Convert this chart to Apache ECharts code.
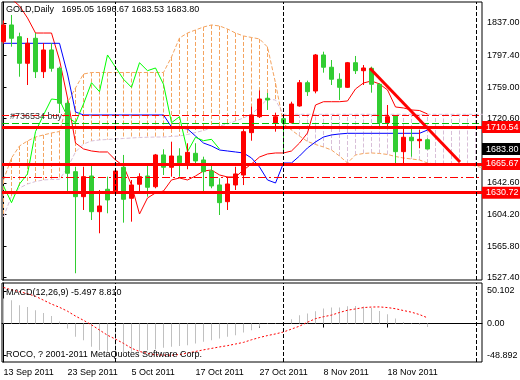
<!DOCTYPE html>
<html><head><meta charset="utf-8">
<script src="https://cdn.jsdelivr.net/npm/echarts@6/dist/echarts.min.js"></script>
<style>html,body{margin:0;padding:0;background:#fff}#c{width:520px;height:380px}</style>
</head><body><div id="c"></div>
<script>
// ---- data (bar index 0 = 13 Sep 2011) ----
const dateTickIdx = [0, 8, 16, 24, 32, 40, 48];
const dateLabels = ['13 Sep 2011', '23 Sep 2011', '5 Oct 2011', '17 Oct 2011', '27 Oct 2011', '8 Nov 2011', '18 Nov 2011'];
const priceTicks = [1527.40, 1565.80, 1604.20, 1642.60, 1720.60, 1759.00, 1797.40, 1837.00];
const macdTicks = [-48.892, 0, 50.102];

const barOpen = [1814.3,1834.6,1820.3,1788.0,1818.4,1777.8,1804.2,1781.9,1739.4,1656.3,1625.9,1651.0,1607.6,1634.9,1630.0,1661.6,1623.9,1641.0,1651.0,1638.0,1676.6,1661.6,1675.3,1664.4,1678.6,1670.5,1657.1,1640.1,1619.8,1640.1,1652.2,1703.7,1723.1,1745.5,1715.1,1720.7,1715.8,1736.1,1764.4,1754.3,1798.1,1783.2,1768.6,1758.8,1788.7,1779.0,1781.9,1762.5,1715.8,1724.3,1680.6,1698.1,1693.9,1695.05];
const barClose = [1834.6,1818.4,1788.0,1812.3,1777.8,1804.2,1781.9,1739.4,1654.3,1625.9,1650.2,1607.6,1614.6,1621.9,1657.1,1622.7,1640.1,1650.2,1637.3,1676.6,1661.6,1675.3,1667.2,1679.8,1669.3,1656.3,1638.9,1618.6,1641.3,1653.5,1704.9,1725.2,1744.6,1743.4,1723.1,1715.8,1738.5,1764.4,1753.5,1798.1,1783.2,1768.6,1758.8,1788.7,1779.0,1782.3,1762.5,1715.8,1723.1,1680.6,1698.1,1693.9,1695.6,1683.80];
const barLow = [1812.0,1808.2,1771.7,1761.6,1770.1,1770.1,1777.8,1727.6,1631.9,1532.8,1609.7,1597.5,1581.4,1605.7,1627.9,1594.3,1595.5,1631.9,1625.9,1636.1,1652.2,1650.2,1650.2,1659.2,1663.2,1630.7,1636.1,1603.6,1609.7,1634.0,1640.0,1693.9,1721.5,1731.3,1704.9,1677.8,1715.1,1735.3,1748.3,1751.5,1776.6,1761.6,1743.4,1758.0,1775.0,1761.6,1752.3,1710.2,1708.2,1666.5,1666.5,1674.5,1684.7,1683.53];
const barHigh = [1840.0,1846.7,1825.2,1818.8,1824.8,1812.7,1812.7,1783.9,1743.4,1662.3,1662.3,1666.5,1634.0,1650.2,1660.8,1676.6,1646.2,1654.3,1664.4,1677.8,1683.5,1692.7,1684.7,1690.8,1690.8,1674.5,1664.4,1648.2,1650.2,1662.3,1707.8,1735.3,1755.0,1751.9,1728.0,1724.0,1741.3,1767.7,1766.9,1799.3,1802.1,1792.0,1775.9,1789.6,1796.9,1785.9,1783.9,1763.7,1737.3,1725.2,1709.0,1711.0,1707.0,1696.67];

const tenkan = [1871.0,1866.2,1857.7,1843.1,1824.8,1824.8,1824.8,1792.0,1745.8,1691.1,1683.9,1681.4,1680.2,1680.2,1670.5,1663.2,1640.1,1604.8,1624.3,1630.4,1632.8,1646.2,1648.6,1646.2,1651.0,1657.1,1658.3,1652.3,1649.8,1649.8,1658.3,1665.6,1674.1,1677.8,1679.0,1679.0,1681.4,1691.1,1703.3,1737.3,1741.3,1741.3,1741.3,1742.2,1756.8,1764.1,1766.5,1762.9,1755.6,1734.9,1733.7,1731.3,1730.6,1726.4];
const kijun = [1812.3,1812.3,1812.3,1812.3,1812.3,1812.3,1812.3,1812.3,1775.0,1728.8,1725.2,1725.2,1725.2,1725.2,1725.2,1725.2,1725.2,1725.2,1725.2,1725.2,1725.2,1710.6,1709.4,1708.2,1699.6,1691.1,1687.5,1682.6,1681.4,1680.2,1679.0,1672.9,1662.0,1646.2,1642.5,1666.8,1666.8,1675.3,1685.1,1692.4,1698.4,1700.9,1702.1,1702.9,1702.9,1702.9,1702.9,1702.9,1702.9,1702.9,1702.9,1702.9,1702.9,1706.9];
// lagging span, drawn from bar 0
const chikou = [1638.9,1618.6,1641.3,1653.5,1704.9,1725.2,1744.6,1743.4,1723.1,1715.8,1738.5,1764.4,1753.5,1798.1,1783.2,1768.6,1758.8,1788.7,1779.0,1782.3,1762.5,1715.8,1723.1,1680.6,1698.1,1693.9,1695.6,1683.8];
// leading spans (extend into the future)
const spanA = [1646.2,1672.9,1687.5,1693.6,1698.4,1700.9,1703.3,1705.1,1739.8,1758.0,1775.0,1776.8,1776.8,1776.8,1776.8,1776.8,1776.8,1776.8,1776.8,1776.8,1776.8,1795.7,1818.8,1824.8,1828.5,1832.1,1834.6,1833.4,1829.7,1824.8,1821.2,1819.4,1817.6,1807.8,1764.0,1714.2,1706.9,1699.6,1693.0,1689.3,1686.3,1682.6,1675.3,1666.8,1676.6,1678.4,1679.0,1678.4,1677.2,1674.7,1672.9,1671.7,1670.5,1666.8,1665.6,1665.0,1664.4,1665.0,1665.0,1663.2,1660.8];
const spanB = [1601.2,1626.7,1636.4,1641.3,1644.3,1646.2,1646.8,1647.0,1660.8,1680.2,1689.9,1693.6,1694.8,1695.4,1696.0,1696.6,1697.2,1697.8,1698.1,1698.4,1698.4,1699.1,1699.6,1701.5,1703.9,1706.3,1709.4,1711.8,1714.2,1717.9,1721.5,1726.4,1734.9,1744.6,1743.4,1726.0,1726.0,1726.0,1726.0,1726.0,1726.0,1726.0,1726.0,1726.0,1726.0,1726.0,1726.0,1726.0,1726.0,1726.0,1726.0,1726.0,1726.0,1726.0,1726.0,1726.0,1726.0,1726.0,1726.0,1726.0,1726.0];

const macdMain = [38.5,35.8,28.2,25.6,20.5,16.4,11.8,3.0,-7.7,-20.5,-25.6,-35.9,-41.0,-43.6,-43.6,-44.6,-43.6,-42.6,-41.0,-39.5,-37.4,-35.9,-34.4,-33.3,-30.8,-28.2,-25.6,-23.1,-20.5,-17.9,-13.8,-10.3,-5.0,1.0,1.0,2.5,6.7,12.8,15.4,18.9,23.0,24.6,24.6,26.7,27.2,26.1,24.0,19.5,14.4,7.7,2.5,1.0,-2.0,-5.497];
const macdSignal = [55.5,52,49,46,42,36,30,25,19,11.5,5,-2,-10,-18,-24,-30.5,-38,-43,-46,-48,-48.5,-48.7,-47.7,-45.5,-43,-40.5,-38.3,-36,-34,-31.5,-29,-25,-21.5,-18.5,-16,-13,-8.5,-4,2,7.5,10.5,13,17,20.5,22.5,24.6,25.4,25.6,24.6,22.8,20,17.5,13.8,8.81];

const levelLines = [1710.54, 1665.67, 1630.72];
const lastPrice = 1683.80;
const orderTP = 1725.2, orderOpen = 1715.1, orderSL = 1649.4;
const orderText = '#736534 buy';
const trendLine = [[45.8, 1782.0], [57.06, 1668.0]];
const separators = [14, 35, 59.06];

const headerText = 'GOLD,Daily   1695.05 1696.67 1683.53 1683.80';
const macdText = 'MACD(12,26,9) -5.497 8.810';
const copyText = 'ROCO, ? 2001-2011 MetaQuotes Software Corp.';

// ---- chart ----
const FONT = 'Liberation Sans';
const X_MIN = -0.1875, X_MAX = 59.8125;
const txt = {fontFamily: FONT, fontSize: 9, fontWeight: 'normal', color: '#000'};
const idx = a => a.map((v, i) => [i, v]);

const boxLabel = (bg) => ({show: true, position: 'end', distance: 0, formatter: p => p.value.toFixed(2),
  backgroundColor: bg, color: '#fff', padding: [2, 4, 1, 4], fontFamily: FONT, fontSize: 9});

const mainMarks = [];
levelLines.forEach(v => mainMarks.push({yAxis: v, lineStyle: {color: '#FF0000', width: 3, type: 'solid'}, label: boxLabel('#FF0000')}));
mainMarks.push({yAxis: lastPrice, lineStyle: {color: 'rgba(0,0,0,0)', width: 1}, label: boxLabel('#000000')});
mainMarks.push({yAxis: orderTP, lineStyle: {color: '#FF0000', width: 1, type: [7, 3]}, label: {show: false}});
mainMarks.push({yAxis: orderOpen, lineStyle: {color: '#00C800', width: 1, type: [7, 3]},
  label: {show: true, position: 'insideStartTop', distance: [8, 2], formatter: orderText, color: '#333', fontFamily: FONT, fontSize: 9}});
mainMarks.push({yAxis: orderSL, lineStyle: {color: '#FF0000', width: 1, type: [8, 3, 2, 3]}, label: {show: false}});
separators.forEach(v => mainMarks.push({xAxis: v, lineStyle: {color: '#000', width: 1, type: [4, 2]}, label: {show: false}}));
const macdMarks = separators.map(v => ({xAxis: v, lineStyle: {color: '#000', width: 1, type: [4, 2]}, label: {show: false}}));

const chart = echarts.init(document.getElementById('c'), null, {renderer: 'canvas'});
chart.setOption({
  animation: false,
  backgroundColor: '#fff',
  title: [
    {text: headerText, left: 6, top: 5, padding: 0, textStyle: txt},
    {text: macdText, left: 6, top: 288, padding: 0, textStyle: txt},
    {text: copyText, left: 6, top: 350, padding: 0, textStyle: txt}
  ],
  grid: [
    {left: 2, right: 38, top: 2, height: 278, show: true, borderColor: '#000', borderWidth: 1, backgroundColor: 'rgba(0,0,0,0)', containLabel: false, outerBoundsMode: 'none'},
    {left: 2, right: 38, top: 283, height: 79, show: true, borderColor: '#000', borderWidth: 1, backgroundColor: 'rgba(0,0,0,0)', containLabel: false, outerBoundsMode: 'none'}
  ],
  xAxis: [
    {type: 'value', gridIndex: 0, min: X_MIN, max: X_MAX, show: false, splitLine: {show: false}},
    {type: 'value', gridIndex: 1, min: X_MIN, max: X_MAX,
      axisLine: {show: true, lineStyle: {color: '#000'}},
      axisTick: {show: true, length: 4, customValues: dateTickIdx, lineStyle: {color: '#000'}},
      axisLabel: {show: true, customValues: dateTickIdx, formatter: v => dateLabels[dateTickIdx.indexOf(Math.round(v))] || '',
        align: 'left', margin: 6, hideOverlap: false, fontFamily: FONT, fontSize: 9, color: '#000'},
      splitLine: {show: false}}
  ],
  yAxis: [
    {type: 'value', gridIndex: 0, position: 'right', min: 1524.6, max: 1862.5, scale: true,
      axisLine: {show: true, lineStyle: {color: '#000'}},
      axisTick: {show: true, length: 3, customValues: priceTicks, lineStyle: {color: '#000'}},
      axisLabel: {show: true, customValues: priceTicks, formatter: v => v.toFixed(2), margin: 5, hideOverlap: false, fontFamily: FONT, fontSize: 9, color: '#000'},
      splitLine: {show: false}},
    {type: 'value', gridIndex: 1, position: 'right', min: -59.21, max: 62.42, scale: true,
      axisLine: {show: true, lineStyle: {color: '#000'}},
      axisTick: {show: true, length: 3, customValues: macdTicks, lineStyle: {color: '#000'}},
      axisLabel: {show: true, customValues: macdTicks, formatter: v => (v === 0 ? '0.00' : v.toFixed(3)), margin: 5, hideOverlap: false, fontFamily: FONT, fontSize: 9, color: '#000'},
      splitLine: {show: false}}
  ],
  series: [
    {type: 'custom', name: 'cloud', xAxisIndex: 0, yAxisIndex: 0, clip: true, z: 1, silent: true,
      data: spanA.map((a, i) => [i, a, spanB[i]]), encode: {x: 0, y: [1, 2]},
      renderItem: (params, api) => {
        const k = api.value(0), a = api.value(1), b = api.value(2);
        const p1 = api.coord([k, a]), p2 = api.coord([k, b]);
        return {type: 'line', shape: {x1: p1[0], y1: p1[1], x2: p2[0], y2: p2[1]},
          style: {stroke: a >= b ? '#F4A460' : '#D8BFD8', lineWidth: 1, lineDash: [4, 2]}};
      }},
    {type: 'line', name: 'Senkou A', data: idx(spanA), symbol: 'none', z: 2, lineStyle: {color: '#F4A460', width: 1, type: [4, 2]}},
    {type: 'line', name: 'Senkou B', data: idx(spanB), symbol: 'none', z: 2, lineStyle: {color: '#D8BFD8', width: 1, type: [4, 2]}},
    {type: 'line', name: 'Tenkan', data: idx(tenkan), symbol: 'none', z: 3, lineStyle: {color: '#FF0000', width: 1}},
    {type: 'line', name: 'Kijun', data: idx(kijun), symbol: 'none', z: 3, lineStyle: {color: '#0000FF', width: 1}},
    {type: 'line', name: 'Chikou', data: idx(chikou), symbol: 'none', z: 3, lineStyle: {color: '#00FF00', width: 1}},
    {type: 'candlestick', name: 'GOLD', z: 4, barWidth: 4,
      data: barOpen.map((o, i) => [i, o, barClose[i], barLow[i], barHigh[i]]), encode: {x: 0, y: [1, 2, 3, 4]},
      itemStyle: {color: '#FF0000', color0: '#32CD32', borderColor: '#FF0000', borderColor0: '#32CD32', borderWidth: 1}},
    {type: 'line', name: 'trend', data: trendLine, symbol: 'none', z: 6, lineStyle: {color: '#FF0000', width: 3},
      markLine: {silent: true, symbol: ['none', 'none'], animation: false, data: mainMarks}},
    {type: 'bar', name: 'MACD', xAxisIndex: 1, yAxisIndex: 1, data: idx(macdMain), barWidth: 1, itemStyle: {color: '#C0C0C0'},
      markLine: {silent: true, symbol: ['none', 'none'], animation: false, data: macdMarks}},
    {type: 'line', name: 'Signal', xAxisIndex: 1, yAxisIndex: 1, data: idx(macdSignal), symbol: 'none', z: 3, lineStyle: {color: '#FF0000', width: 1, type: [2, 2]}}
  ]
});
</script>
</body></html>
